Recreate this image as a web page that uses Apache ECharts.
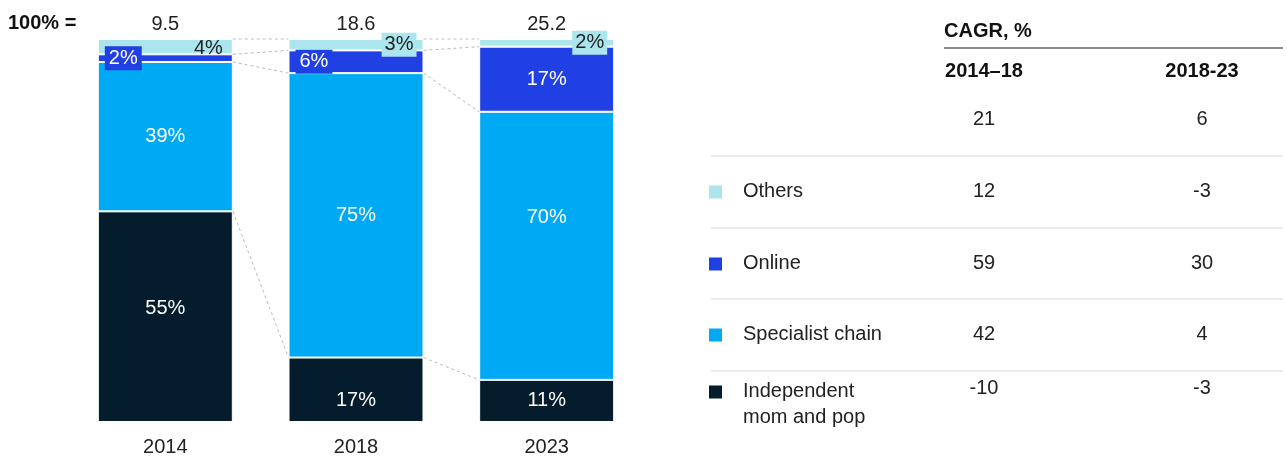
<!DOCTYPE html>
<html>
<head>
<meta charset="utf-8">
<script src="https://cdn.jsdelivr.net/npm/echarts@6/dist/echarts.min.js"></script>
<style>
  html, body { margin: 0; padding: 0; background: #fff; }
  #main { width: 1287px; height: 457px; }
</style>
</head>
<body>
<div id="main"></div>
<script>
// bar data (share of 100%, labels as printed)
var years = ['2014', '2018', '2023'];
var totals = ['9.5', '18.6', '25.2'];
var momPop = [55, 17, 11];
var specialist = [39, 75, 70];
var online = [2, 6, 17];
var others = [4, 3, 2];

// table on the right, top to bottom
var rowNames = ['Others', 'Online', 'Specialist chain', 'Independent\nmom and pop'];
var cagrHeads = ['2014\u201318', '2018-23'];
var cagrTotal = [21, 6];
var cagr1418 = [12, 59, 42, -10];
var cagr1823 = [-3, 30, 4, -3];

var FONT = '"Liberation Sans", Arial, sans-serif';
var FS = 20;
var TXT = '#222';
var colors = { mom: '#051c2c', spec: '#00a9f4', online: '#2140e3', others: '#abe5ee' };
var rowColors = [colors.others, colors.online, colors.spec, colors.mom];
var BAR_W = 135;

// stack bottom -> top; 2018 labels add up to 101, so scale each bar to 100
var stackVals = [momPop, specialist, online, others];
var sums = years.map(function (y, i) {
  return stackVals.reduce(function (s, arr) { return s + arr[i]; }, 0);
});
var shares = stackVals.map(function (arr) {
  return arr.map(function (v, i) { return v / sums[i] * 100; });
});

// boundary levels for the dashed connectors
var levels = [];
var run = years.map(function () { return 0; });
shares.forEach(function (arr) {
  run = run.map(function (r, i) { return r + arr[i]; });
  levels.push(run.slice());
});
var connectors = [];
for (var i = 0; i < years.length - 1; i++) {
  levels.forEach(function (lv) { connectors.push([i, lv[i], lv[i + 1]]); });
}

function fmtPct(src) {
  return function (p) { return src[p.dataIndex] + '%'; };
}

var chart = echarts.init(document.getElementById('main'), null, { renderer: 'canvas' });

// right-side table built as graphic elements
function txt(x, y, s, bold, align) {
  return {
    type: 'text', x: x, y: y,
    style: {
      text: s, font: (bold ? 'bold ' : '') + FS + 'px ' + FONT, fill: bold ? '#111' : TXT,
      align: align || 'left', verticalAlign: 'middle', lineHeight: 26
    }
  };
}
var g = [];
g.push(txt(8, 23, '100% =', true));
g.push(txt(944, 31, 'CAGR, %', true));
g.push({ type: 'line', shape: { x1: 944, y1: 48, x2: 1283, y2: 48 }, style: { stroke: '#666', lineWidth: 1.5 } });
var colX = [984, 1202];
cagrHeads.forEach(function (h, c) {
  g.push(txt(colX[c], 71, h, true, 'center'));
  g.push(txt(colX[c], 119, String(cagrTotal[c]), false, 'center'));
});
[156, 228, 299, 371].forEach(function (y) {
  g.push({ type: 'line', shape: { x1: 711, y1: y, x2: 1283, y2: y }, style: { stroke: '#ececec', lineWidth: 2 } });
});
var rowY = [191, 263, 334, 388];
rowNames.forEach(function (n, r) {
  var y = rowY[r];
  var last = r === rowNames.length - 1;
  var sq = last ? 392 : y + 1;
  g.push({ type: 'rect', shape: { x: 709, y: sq - 6.5, width: 13, height: 13 }, style: { fill: rowColors[r] } });
  var t = txt(743, (last ? 391 : y) - 13, n, false);
  t.style.verticalAlign = 'top';
  g.push(t);
  g.push(txt(colX[0], y, String(cagr1418[r]), false, 'center'));
  g.push(txt(colX[1], y, String(cagr1823[r]), false, 'center'));
});

// a few printed labels sit off the segment centre
var labelShift = {
  0: { 0: { offset: [0, -8] }, 1: { offset: [0, 11] } },
  1: { 2: { offset: [0, -28] } },
  3: { 0: { offset: [0, 2], backgroundColor: 'transparent' } }
};

function barSeries(name, k, color, label) {
  var shift = labelShift[k] || {};
  return {
    name: name,
    type: 'bar',
    stack: 'total',
    barWidth: BAR_W,
    data: shares[k].map(function (v, i) {
      return shift[i] ? { value: v, label: shift[i] } : v;
    }),
    itemStyle: { color: color, borderColor: '#fff', borderWidth: 1 },
    label: Object.assign({ show: true, fontFamily: FONT, fontSize: FS, formatter: fmtPct(stackVals[k]) }, label),
    emphasis: { disabled: true }
  };
}

var onlineSeries = barSeries('Online', 2, colors.online, { position: 'insideLeft', distance: 7, color: '#fff', backgroundColor: colors.online, padding: [2, 4] });
onlineSeries.data = shares[2].map(function (v, i) {
  return i === 2 ? { value: v, label: { position: 'inside' } } : v;
});

var option = {
  animation: false,
  backgroundColor: '#fff',
  textStyle: { fontFamily: FONT },
  graphic: g,
  grid: { left: 70, width: 572, top: 39, height: 385 },
  xAxis: [
    {
      type: 'category', data: years, position: 'bottom',
      axisLine: { show: false }, axisTick: { show: false },
      axisLabel: { fontSize: FS, color: TXT, margin: 15, fontFamily: FONT }
    },
    {
      type: 'category', data: totals, position: 'top',
      axisLine: { show: false }, axisTick: { show: false },
      axisLabel: { fontSize: FS, color: TXT, margin: 5, fontFamily: FONT }
    }
  ],
  yAxis: { type: 'value', min: 0, max: 100, show: false, splitLine: { show: false } },
  series: [
    barSeries('Independent mom and pop', 0, colors.mom, { position: 'inside', color: '#fff' }),
    barSeries('Specialist chain', 1, colors.spec, { position: 'inside', color: '#fff' }),
    onlineSeries,
    barSeries('Others', 3, colors.others, { position: 'insideRight', distance: 7, color: TXT, backgroundColor: colors.others, padding: [2, 3] }),
    {
      type: 'custom',
      z: 1,
      silent: true,
      encode: { x: 0, y: [1, 2] },
      data: connectors,
      renderItem: function (params, api) {
        var idx = api.value(0);
        var a = api.coord([idx, api.value(1)]);
        var b = api.coord([idx + 1, api.value(2)]);
        return {
          type: 'line',
          shape: { x1: a[0] + BAR_W / 2, y1: a[1], x2: b[0] - BAR_W / 2, y2: b[1] },
          style: { stroke: '#bbb', lineWidth: 1, lineDash: [3, 3] }
        };
      }
    }
  ]
};

chart.setOption(option);
</script>
</body>
</html>
